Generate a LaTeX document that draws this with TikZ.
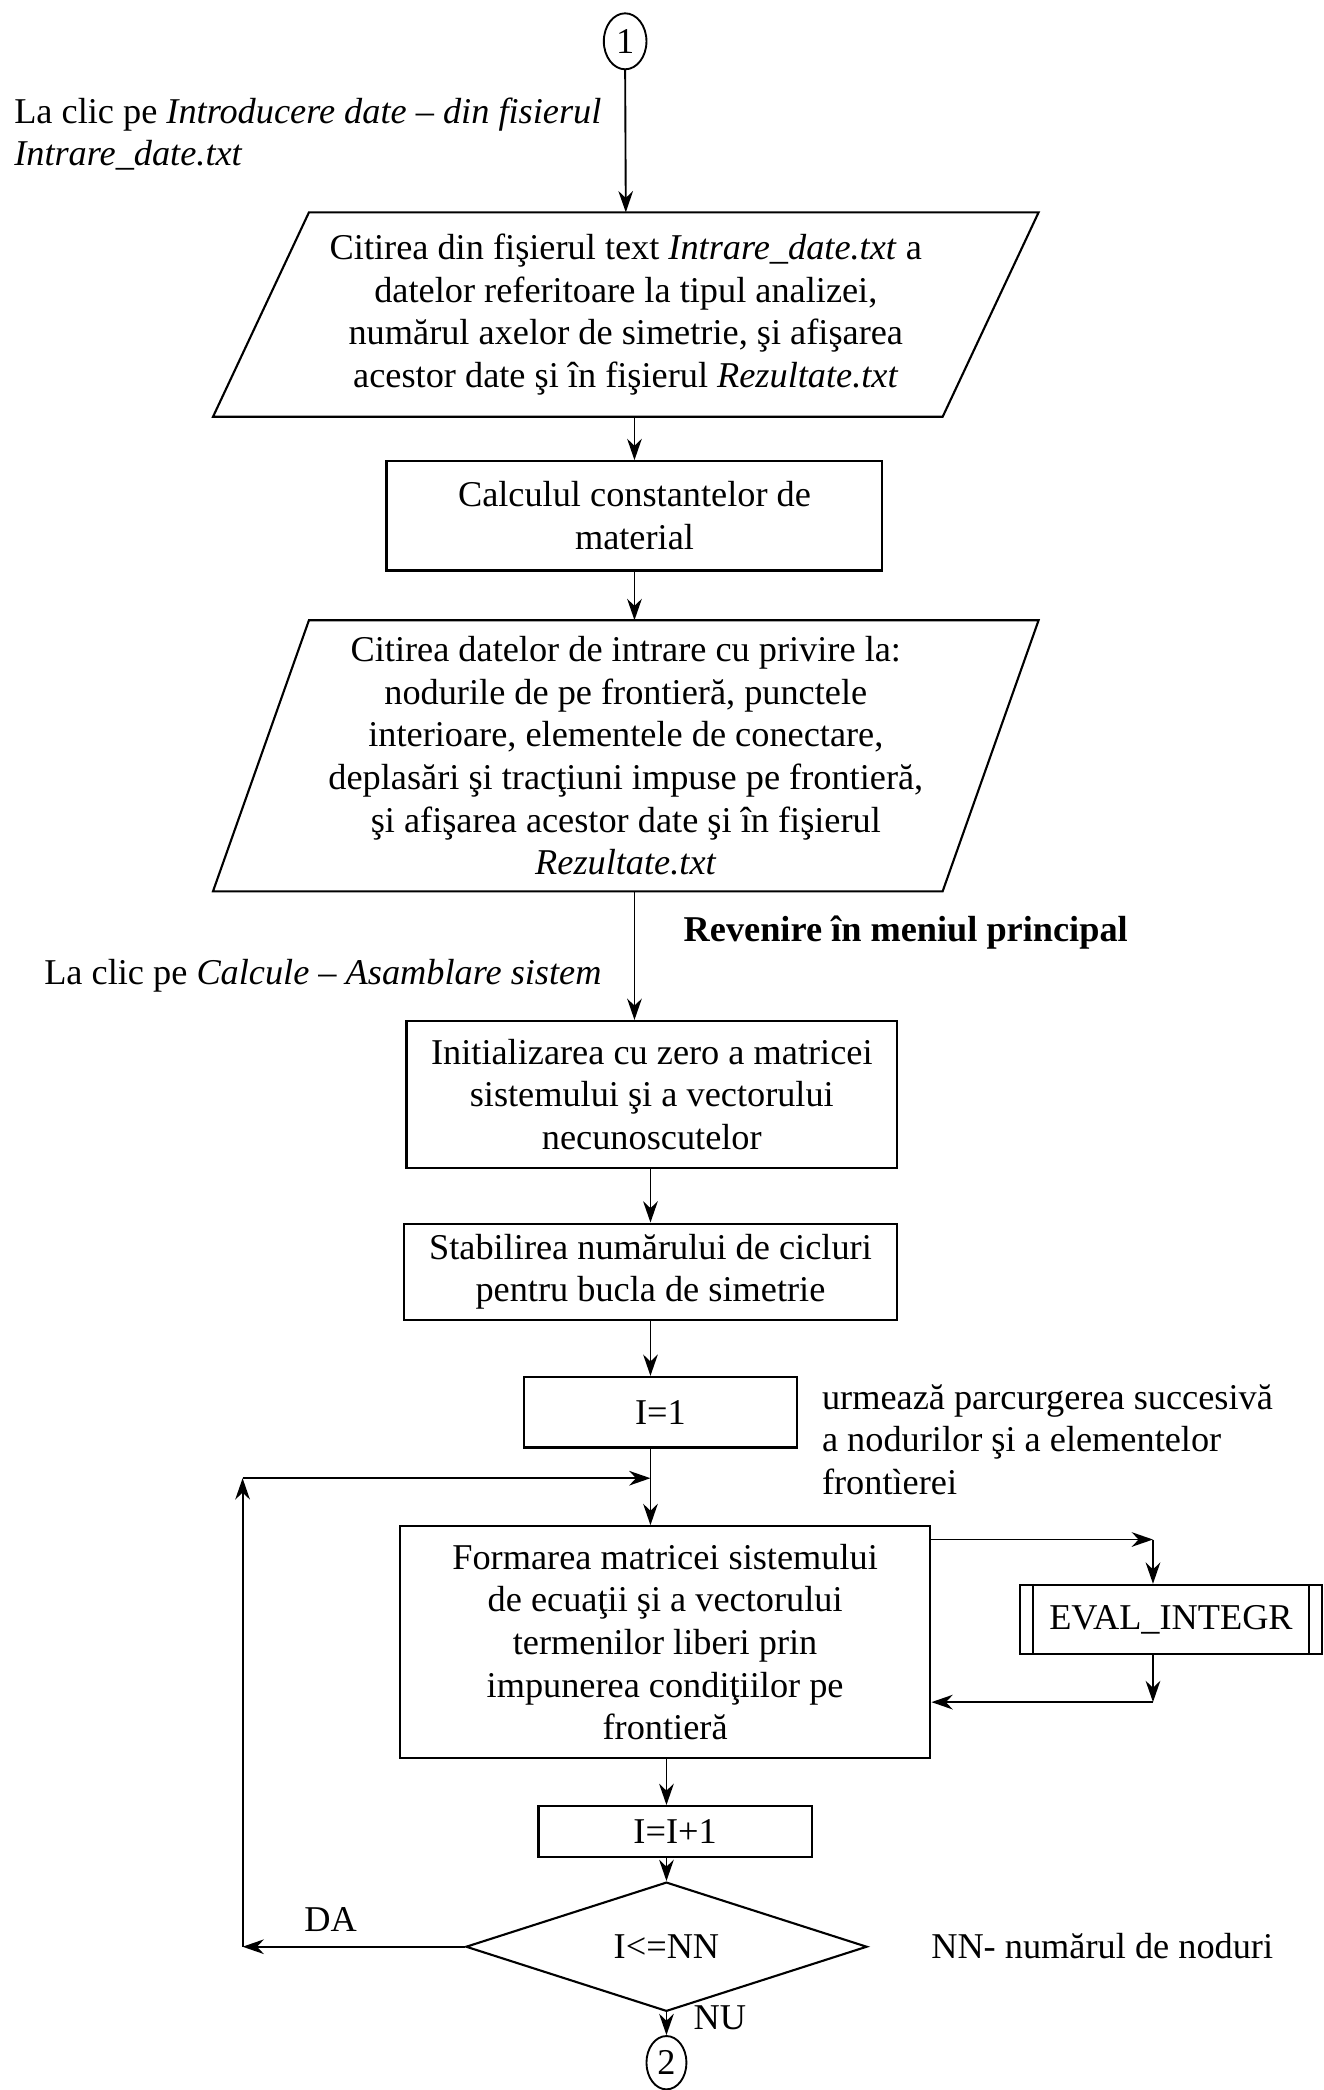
\documentclass[tikz,border=0pt]{standalone}
\usepackage{fontspec}
\setmainfont{Liberation Serif}
\usepackage{tikz}
\usetikzlibrary{shapes.geometric}
\usetikzlibrary{arrows.meta}
% slanted input/output block: name, centre, height, text
\newcommand{\datablock}[4]{
\node[txt,minimum width=12.36cm,minimum height=#3] (#1) at #2 {#4};
\draw[line width=0.9pt] ([xshift=1.44cm]#1.north west) -- (#1.north east) -- ([xshift=-1.44cm]#1.south east) -- (#1.south west) -- cycle;
}
% extra side bars for a subroutine call
\newcommand{\subprog}[1]{
\draw ([xshift=0.22cm]#1.north west) -- ([xshift=0.22cm]#1.south west);
\draw ([xshift=-0.22cm]#1.north east) -- ([xshift=-0.22cm]#1.south east);
}

\begin{document}
\begin{tikzpicture}[font=\fontsize{15.5}{18.2}\selectfont,line width=0.8pt,
txt/.style={align=center,inner sep=0pt},
box/.style={draw,rectangle,align=center,inner sep=0pt,line width=0.9pt},
conn/.style={draw,ellipse,inner sep=0pt},
arr/.style={-{Stealth[length=0.32cm,width=0.22cm]}}]
\useasboundingbox (0,0) rectangle (19.86,-31.36);
\node[conn,minimum width=0.64cm,minimum height=0.84cm] (c1) at (9.38,-0.62) {1};
\node[txt,align=left,anchor=west] (clic1) at (0.2,-2.01) {La clic pe \textit{Introducere date – din fisierul}\\\textit{Intrare\_date.txt}};
\datablock{p1}{(9.39,-4.72)}{3.04cm}{Citirea din fişierul text \textit{Intrare\_date.txt} a\\datelor referitoare la tipul analizei,\\numărul axelor de simetrie, şi afişarea\\acestor date şi în fişierul \textit{Rezultate.txt}}
\node[box,minimum width=7.44cm,minimum height=1.64cm] (b2) at (9.52,-7.74) {Calculul constantelor de\\material};
\datablock{p2}{(9.39,-11.34)}{4.04cm}{Citirea datelor de intrare cu privire la:\\nodurile de pe frontieră, punctele\\interioare, elementele de conectare,\\deplasări şi tracţiuni impuse pe frontieră,\\şi afişarea acestor date şi în fişierul\\\textit{Rezultate.txt}}
\node[txt] (back) at (13.59,-14.0) {\textbf{Revenire în meniul principal}};
\node[txt,anchor=east] (clic2) at (9.04,-14.64) {La clic pe \textit{Calcule – Asamblare sistem}};
\node[box,minimum width=7.36cm,minimum height=2.2cm] (b3) at (9.78,-16.42) {Initializarea cu zero a matricei\\sistemului şi a vectorului\\necunoscutelor};
\node[box,minimum width=7.4cm,minimum height=1.44cm] (b4) at (9.76,-19.08) {Stabilirea numărului de cicluri\\pentru bucla de simetrie};
\node[box,minimum width=4.1cm,minimum height=1.06cm] (i1) at (9.91,-21.19) {I=1};
\node[txt,align=left,anchor=west] (note) at (12.32,-21.6) {urmează parcurgerea succesivă\\a nodurilor şi a elementelor\\frontìerei};
\node[box,minimum width=7.96cm,minimum height=3.48cm] (form) at (9.98,-24.64) {Formarea matricei sistemului\\de ecuaţii şi a vectorului\\termenilor liberi prin\\impunerea condiţiilor pe\\frontieră};
\node[box,minimum width=4.54cm,minimum height=1.04cm] (ev) at (17.57,-24.3) {EVAL\_INTEGR};
\subprog{ev}
\node[box,minimum width=4.1cm,minimum height=0.76cm] (inc) at (10.13,-27.48) {I=I+1};
\node[draw,diamond,minimum width=6.02cm,minimum height=1.42cm,inner sep=0pt,line width=0.9pt] (dia) at (10.0,-29.21) {I<=NN};
\node[txt] (da) at (4.96,-28.8) {DA};
\node[txt,anchor=west] (nn) at (13.96,-29.2) {NN- numărul de noduri};
\node[txt] (nu) at (10.8,-30.28) {NU};
\node[conn,minimum width=0.6cm,minimum height=0.8cm] (c2) at (10.0,-30.95) {2};
\coordinate (lp) at (3.64,-22.18);
\coordinate (e1) at (17.3,-23.1);
\coordinate (e2) at (17.3,-25.54);
% main line
\draw[arr] (c1.south) -- (p1.north);
\draw[arr] (b2.north |- p1.south) -- (b2.north);
\draw[arr] (b2.south) -- (b2.south |- p2.north);
\draw[arr] (p2.south -| b2.south) -- (b3.north -| b2.south);
\draw[arr] (b3.south -| b4) -- (b4.north);
\draw[arr] (b4.south) -- (i1.north -| b4);
\draw[arr] (i1.south -| b4) -- (form.north -| b4);
\draw[arr] (form.south -| dia) -- (inc.north -| dia);
\draw[arr] (inc.south -| dia) -- (dia.north);
\draw[arr] (dia.south) -- (c2.north);
% loop back
\draw[arr] (dia.west) -- (dia.west -| lp);
\draw[arr] (dia.west -| lp) -- (lp);
\draw[arr] (lp) -- (lp -| b4);
% subroutine call
\draw[arr] (form.east |- e1) -- (e1);
\draw[arr] (e1) -- (e1 |- ev.north);
\draw[arr] (e1 |- ev.south) -- (e2);
\draw[arr] (e2) -- (e2 -| form.east);
\end{tikzpicture}
\end{document}
